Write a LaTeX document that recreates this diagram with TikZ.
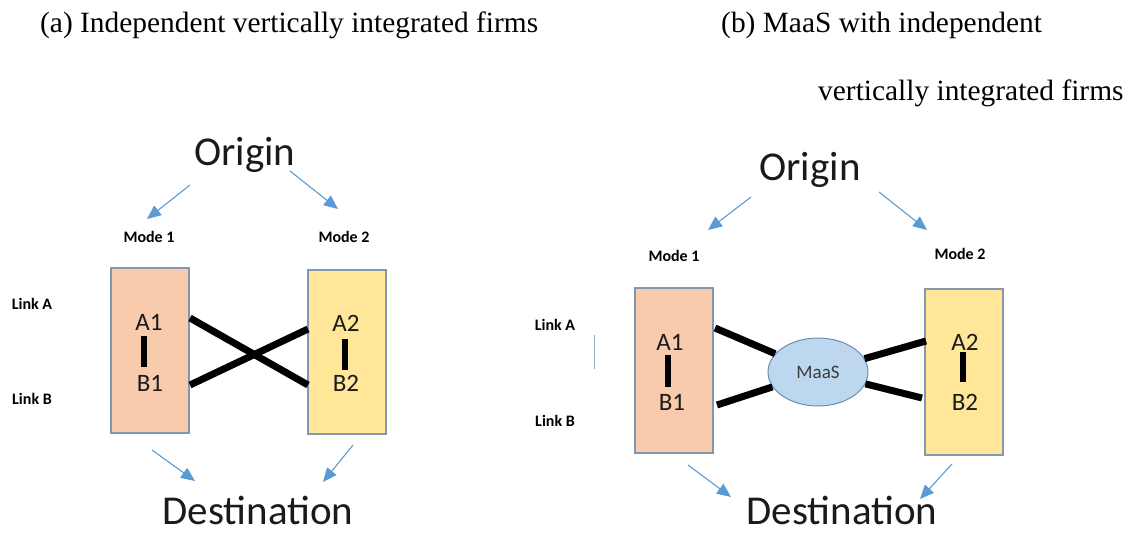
\documentclass[tikz,border=0pt]{standalone}
\usepackage{fontspec}
\setmainfont{Liberation Serif}
\newfontfamily\calib{Carlito}
\usetikzlibrary{arrows.meta,shapes.geometric}
\definecolor{peach}{HTML}{F8CBAD}
\definecolor{gold}{HTML}{FFE699}
\definecolor{arrowblue}{HTML}{5B9BD5}
\definecolor{boxedge}{HTML}{8497B0}
\definecolor{maasfill}{HTML}{BDD7EE}
\definecolor{maasedge}{HTML}{6F8CB4}
\definecolor{ink}{HTML}{1A1A1A}
\definecolor{faint}{HTML}{9AA8CC}
\begin{document}
\begin{tikzpicture}[x=1pt,y=-1pt,
 title/.style={font=\fontsize{29.4}{30}\selectfont, inner sep=0pt, anchor=base west},
 big/.style={font=\calib\fontsize{41}{41}\selectfont, inner sep=0pt, anchor=base, text=ink},
 mode/.style={font=\calib\bfseries\fontsize{16}{16}\selectfont, inner sep=0pt, text=black},
 firm/.style={draw=boxedge, line width=1.2pt, minimum width=78pt, minimum height=165pt, inner sep=0pt},
 stop/.style={font=\calib\fontsize{25}{25}\selectfont, inner sep=0pt, text=ink},
 flow/.style={draw=arrowblue, line width=1.1pt, -{Triangle[length=14pt,width=12pt]}},
 link/.style={line width=7pt, draw=black},
 bar/.style={line width=6pt, draw=black},
 hub/.style={ellipse, draw=maasedge, fill=maasfill, line width=1pt, minimum width=100pt, minimum height=68pt, inner sep=0pt, font=\calib\fontsize{19}{19}\selectfont, text=ink!85}
]
\useasboundingbox (0,0) rectangle (1126,535);

% titles
\node[title] (ta) at (40,33) {(a) Independent vertically integrated firms};
\node[title] (tb1) at (721,33) {(b) MaaS with independent};
\node[title] (tb2) at (818,100) {vertically integrated firms};

% ---------------- panel (a) ----------------
\node[big] (origA) at (245,165) {Origin};
\node[big] (destA) at (258,524) {Destination};
\node[mode] (m1A) at (149,237) {Mode 1};
\node[mode] (m2A) at (344,237) {Mode 2};
\node[mode] (laA) at (32,304) {Link A};
\node[mode] (lbA) at (32,399) {Link B};

\node[firm, fill=peach] (f1A) at (150,350.5) {};
\node[firm, fill=gold, minimum height=164pt] (f2A) at (347,352) {};

\node[stop] (a1A) at (149,322) {A1};
\node[stop] (b1A) at (150,383) {B1};
\node[stop] (a2A) at (346,323) {A2};
\node[stop] (b2A) at (346,383) {B2};

\coordinate (bar1Aa) at (144,336); \coordinate (bar1Ab) at (144,367);
\coordinate (bar2Aa) at (345,339); \coordinate (bar2Ab) at (345,370);
\draw[bar] (bar1Aa) -- (bar1Ab);
\draw[bar] (bar2Aa) -- (bar2Ab);

\coordinate (xA1) at (190,318); \coordinate (xB2) at (308,385);
\coordinate (xB1) at (190,385); \coordinate (xA2) at (308,329);
\draw[link] (xA1) -- (xB2);
\draw[link] (xB1) -- (xA2);

\coordinate (oAl) at (190,185); \coordinate (mAl) at (147,219);
\coordinate (oAr) at (290,171); \coordinate (mAr) at (338,209);
\coordinate (dAl0) at (152,450); \coordinate (dAl) at (195,481);
\coordinate (dAr0) at (353,445); \coordinate (dAr) at (323,482);
\draw[flow] (oAl) -- (mAl);
\draw[flow] (oAr) -- (mAr);
\draw[flow] (dAl0) -- (dAl);
\draw[flow] (dAr0) -- (dAr);

% ---------------- panel (b) ----------------
\node[big] (origB) at (810,180) {Origin};
\node[big] (destB) at (842,524) {Destination};
\node[mode] (m1B) at (674,256) {Mode 1};
\node[mode] (m2B) at (960,254) {Mode 2};
\node[mode] (laB) at (555,325) {Link A};
\node[mode] (lbB) at (555,421) {Link B};

\coordinate (tick1) at (594,335); \coordinate (tick2) at (594,369);
\draw[faint, line width=1pt] (tick1) -- (tick2);

\node[firm, fill=peach] (f1B) at (674,370.5) {};
\node[firm, fill=gold, minimum height=166pt] (f2B) at (964,372) {};

\node[stop] (a1B) at (670,342) {A1};
\node[stop] (b1B) at (672,402) {B1};
\node[stop] (a2B) at (965,342) {A2};
\node[stop] (b2B) at (965,402) {B2};

\coordinate (bar1Ba) at (668,355); \coordinate (bar1Bb) at (668,387);
\coordinate (bar2Ba) at (963,352); \coordinate (bar2Bb) at (963,382);
\draw[bar] (bar1Ba) -- (bar1Bb);
\draw[bar] (bar2Ba) -- (bar2Bb);

\node[hub] (maas) at (818,372) {MaaS};
\coordinate (pA1) at (715,328); \coordinate (pB1) at (717,405);
\coordinate (pA2) at (926,341); \coordinate (pB2) at (922,398);
\draw[link] (pA1) -- (maas);
\draw[link] (pB1) -- (maas);
\draw[link] (pA2) -- (maas);
\draw[link] (pB2) -- (maas);

\coordinate (oBl) at (751,197); \coordinate (mBl) at (708,230);
\coordinate (oBr) at (879,192); \coordinate (mBr) at (927,230);
\coordinate (dBl0) at (688,465); \coordinate (dBl) at (731,497);
\coordinate (dBr0) at (952,464); \coordinate (dBr) at (920,499);
\draw[flow] (oBl) -- (mBl);
\draw[flow] (oBr) -- (mBr);
\draw[flow] (dBl0) -- (dBl);
\draw[flow] (dBr0) -- (dBr);
\end{tikzpicture}
\end{document}
